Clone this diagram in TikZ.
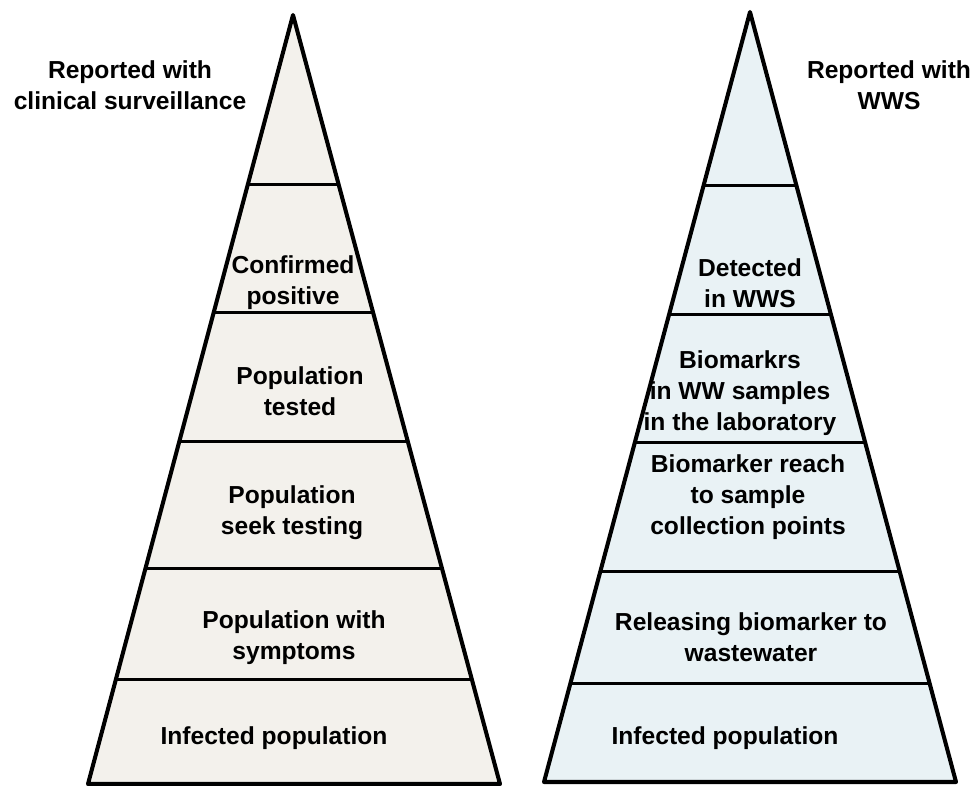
\documentclass[tikz,border=0pt]{standalone}
\usepackage{fontspec}
\setmainfont{Liberation Sans}
\usetikzlibrary{calc}
\definecolor{beige}{HTML}{F3F1EC}
\definecolor{paleblue}{HTML}{E9F2F5}

\begin{document}
\begin{tikzpicture}[x=0.02cm, y=-0.02cm]
	\tikzstyle{every node} =[font=\fontsize{14}{17.6}\selectfont\bfseries, align=center];
	\tikzstyle{outline} =[line width=2.3pt, line join=round];
	\tikzstyle{tier} =[line width=1.7pt];
	\useasboundingbox (0,0) rectangle (973,786);

	% clinical surveillance
	\coordinate (ctop) at (293,15);
	\coordinate (cleft) at (88,784);
	\coordinate (cright) at (500,784);
	\path [fill=beige] (ctop) -- (cleft) -- (cright) -- cycle;
	\foreach \t in {0.221,0.3875,0.555,0.720,0.8635}
		\draw [tier] ($(ctop)!\t!(cleft)$) -- ($(ctop)!\t!(cright)$);
	\draw [outline] (ctop) -- (cleft) -- (cright) -- cycle;

	% wastewater surveillance
	\coordinate (wtop) at (750,12);
	\coordinate (wleft) at (544,782);
	\coordinate (wright) at (956,782);
	\path [fill=paleblue] (wtop) -- (wleft) -- (wright) -- cycle;
	\foreach \t in {0.2247,0.3935,0.5597,0.727,0.8727}
		\draw [tier] ($(wtop)!\t!(wleft)$) -- ($(wtop)!\t!(wright)$);
	\draw [outline] (wtop) -- (wleft) -- (wright) -- cycle;

	\node (ctitle) at (130, 85) {Reported with\\clinical surveillance};
	\node (cconf) at (293, 283) {Confirmed\\positive};
	\node (ctest) at (300, 391) {Population\\tested};
	\node (cseek) at (292, 513) {Population\\seek testing};
	\node (csymp) at (294, 638) {Population with\\symptoms};
	\node (cinf) at (274, 738) {Infected population};

	\node (wtitle) at (889, 85) {Reported with\\WWS};
	\node (wdet) at (750, 283) {Detected\\in WWS};
	\node (wlab) at (740, 393) {Biomarkrs\\in WW samples\\in the laboratory};
	\node (wreach) at (748, 497) {Biomarker reach\\to sample\\collection points};
	\node (wrel) at (751, 637) {Releasing biomarker to\\wastewater};
	\node (winf) at (725, 738) {Infected population};
\end{tikzpicture}
\end{document}
